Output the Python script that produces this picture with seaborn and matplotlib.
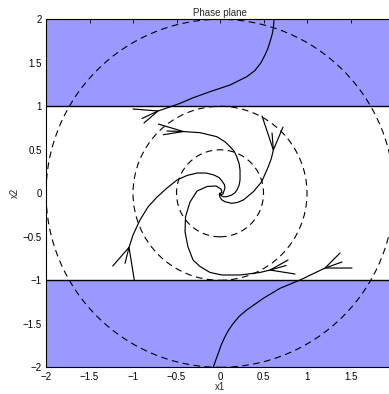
import numpy as np
import pandas as pd
import matplotlib
matplotlib.use("Agg")
import matplotlib.pyplot as plt
import seaborn as sns
from matplotlib.patches import Circle

# ---------------- data ----------------
# trajectories (start point = arrow stem end, second point = arrow apex)
trajA_x = [-0.897, -0.713, -0.555, -0.460, -0.307, -0.115, 0.115, 0.307, 0.400, 0.470, 0.517, 0.550, 0.575, 0.600, 0.613, 0.621]
trajA_y = [0.860, 0.946, 1.000, 1.034, 1.099, 1.168, 1.245, 1.340, 1.410, 1.500, 1.590, 1.665, 1.743, 1.830, 1.897, 2.0]

trajB_x = [-0.609, -0.422, -0.230, -0.038, 0.060, 0.115, 0.165, 0.192, 0.220, 0.230, 0.230, 0.220, 0.199, 0.170, 0.134, 0.077, 0.040, 0.020, -0.008, 0.0]
trajB_y = [0.716, 0.710, 0.697, 0.651, 0.590, 0.536, 0.480, 0.421, 0.340, 0.268, 0.153, 0.095, 0.046, 0.005, -0.020, -0.039, -0.040, -0.031, -0.008, 0.0]

trajC_x = [0.598, 0.613, 0.590, 0.555, 0.479, 0.383, 0.268, 0.200, 0.134, 0.057, 0.020, 0.0, -0.008, 0.0]
trajC_y = [0.693, 0.498, 0.400, 0.306, 0.133, 0.018, -0.077, -0.105, -0.115, -0.097, -0.075, -0.046, -0.008, 0.0]

trajD_x = [-1.092, -1.046, -1.0, -0.920, -0.828, -0.724, -0.609, -0.494, -0.379, -0.264, -0.161, -0.069, -0.010, 0.023, 0.050, 0.057, 0.034, 0.0]
trajD_y = [-0.805, -0.621, -0.479, -0.307, -0.157, -0.043, 0.061, 0.153, 0.205, 0.233, 0.233, 0.210, 0.180, 0.141, 0.100, 0.061, -0.008, -0.020]

trajE_x = [0.759, 0.575, 0.460, 0.230, 0.023, -0.115, -0.230, -0.310, -0.368, -0.402, -0.397, -0.345, -0.264, -0.149, -0.046, 0.011, 0.023, 0.0]
trajE_y = [-0.830, -0.882, -0.910, -0.939, -0.939, -0.910, -0.841, -0.767, -0.617, -0.445, -0.272, -0.100, 0.026, 0.078, 0.084, 0.049, 0.009, 0.0]

trajF_x = [1.402, 1.207, 0.920, 0.690, 0.498, 0.307, 0.220, 0.153, 0.100, 0.057, 0.015, -0.020, -0.050, -0.077]
trajF_y = [-0.790, -0.859, -0.997, -1.092, -1.207, -1.341, -1.415, -1.494, -1.570, -1.648, -1.740, -1.839, -1.920, -2.0]

# arrow barbs (two per trajectory, drawn from the apex)
barb1_x = [-1.000, -0.709, 0.483, -0.985, 0.862, 1.517]
barb1_y = [0.969, 0.796, 0.888, -1.000, -0.928, -0.859]
barb2_x = [-0.874, -0.652, 0.724, -1.233, 0.782, 1.379]
barb2_y = [0.808, 0.673, 0.761, -0.836, -0.767, -0.687]

circle_radii = [0.5, 1.0, 2.0]
band_limits = [1.0, -1.0]

x_ticks = [-2, -1.5, -1, -0.5, 0, 0.5, 1, 1.5]
y_ticks = [-2, -1.5, -1, -0.5, 0, 0.5, 1, 1.5, 2]

# ---------------- figure ----------------
sns.set_theme(style="white")
plt.rcParams["font.family"] = ["Liberation Sans", "DejaVu Sans"]
plt.rcParams["axes.unicode_minus"] = True

fig = plt.figure(figsize=(3.89, 3.94), dpi=100)
ax = fig.add_axes([0.1183, 0.0678, 0.8946, 0.8832])
ax.set_xlim(-2, 2)
ax.set_ylim(-2, 2)

fill_col = "#9999ff"
ax.axhspan(band_limits[0], 2, color=fill_col, lw=0, zorder=0)
ax.axhspan(-2, band_limits[1], color=fill_col, lw=0, zorder=0)
for b in band_limits:
    ax.axhline(b, color="black", lw=1.0, zorder=2)

for r in circle_radii:
    ax.add_patch(Circle((0, 0), r, fill=False, ec="black", lw=0.8,
                        linestyle=(0, (6, 4)), zorder=1))

trajs = [(trajA_x, trajA_y), (trajB_x, trajB_y), (trajC_x, trajC_y),
         (trajD_x, trajD_y), (trajE_x, trajE_y), (trajF_x, trajF_y)]
rows = []
for i, (xs, ys) in enumerate(trajs):
    for j, (xv, yv) in enumerate(zip(xs, ys)):
        rows.append({"x": xv, "y": yv, "traj": i, "order": j})
df = pd.DataFrame(rows)
sns.lineplot(data=df, x="x", y="y", units="traj", estimator=None, sort=False,
             color="black", lw=0.85, ax=ax, zorder=3)

for i, (xs, ys) in enumerate(trajs):
    ax.plot([barb1_x[i], xs[1], barb2_x[i]], [barb1_y[i], ys[1], barb2_y[i]],
            color="black", lw=0.85, zorder=3)

ax.set_xticks(x_ticks)
ax.set_yticks(y_ticks)
fmt = lambda v: ("%g" % v).replace("-", "\u2212")
ax.set_xticklabels([fmt(v) for v in x_ticks])
ax.set_yticklabels([fmt(v) for v in y_ticks])
ax.tick_params(axis="both", direction="in", length=3, width=0.6, labelsize=7,
               colors="black", top=True, right=True)
ax.tick_params(axis="x", pad=3.5)
ax.tick_params(axis="y", pad=3)
for s in ax.spines.values():
    s.set_color("black")
    s.set_linewidth(0.8)

ax.set_title("Phase plane", fontsize=7, pad=2.5)
ax.set_xlabel("x1", fontsize=7, labelpad=0)
ax.set_ylabel("x2", fontsize=7, labelpad=2)

fig.savefig("out.png", dpi=100)
